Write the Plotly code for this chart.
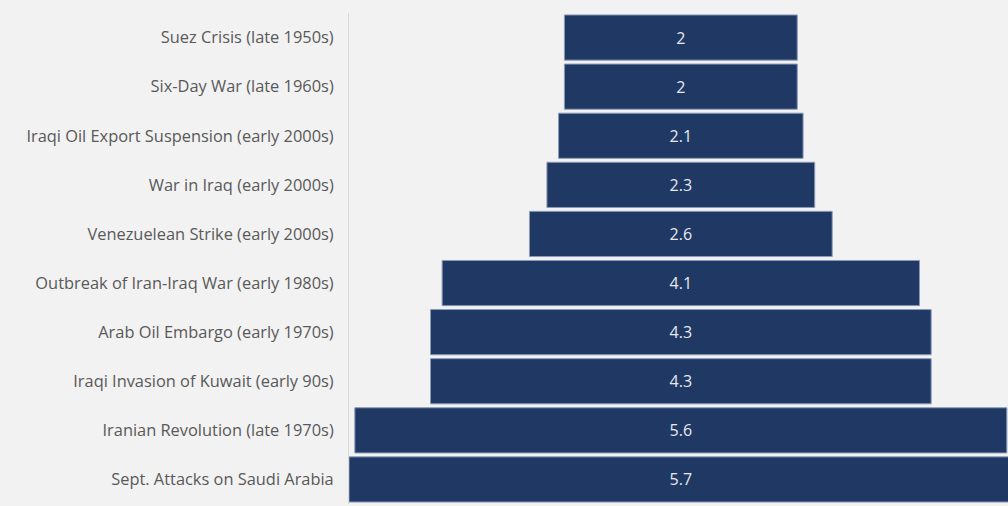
import plotly.graph_objects as go

events = [
    "Suez Crisis (late 1950s)",
    "Six-Day War (late 1960s)",
    "Iraqi Oil Export Suspension (early 2000s)",
    "War in Iraq (early 2000s)",
    "Venezuelean Strike (early 2000s)",
    "Outbreak of Iran-Iraq War (early 1980s)",
    "Arab Oil Embargo (early 1970s)",
    "Iraqi Invasion of Kuwait (early 90s)",
    "Iranian Revolution (late 1970s)",
    "Sept. Attacks on Saudi Arabia",
]
values = [2, 2, 2.1, 2.3, 2.6, 4.1, 4.3, 4.3, 5.6, 5.7]

fig = go.Figure(
    go.Funnel(
        y=events,
        x=values,
        textinfo="value",
        textposition="inside",
        insidetextfont=dict(color="#e6e9ef", size=16, family="Open Sans"),
        marker=dict(color="#203864", line=dict(color="#8a9bb8", width=1)),
        connector=dict(visible=False),
        hoverinfo="y+x",
    )
)

fig.update_layout(
    width=1008,
    height=506,
    margin=dict(l=349, r=0, t=13, b=2),
    paper_bgcolor="#f2f2f2",
    plot_bgcolor="#f2f2f2",
    funnelgap=0.08,
    showlegend=False,
    font=dict(family="Open Sans", color="#595959", size=16),
)
fig.update_xaxes(range=[-2.85, 2.81], visible=False)
fig.update_yaxes(
    showline=True,
    linecolor="#d9d9d9",
    linewidth=1,
    ticks="",
    ticklabelstandoff=11,
    tickfont=dict(size=16.4, color="#595959", family="Open Sans"),
    showgrid=False,
)

fig.write_html("out.html")
